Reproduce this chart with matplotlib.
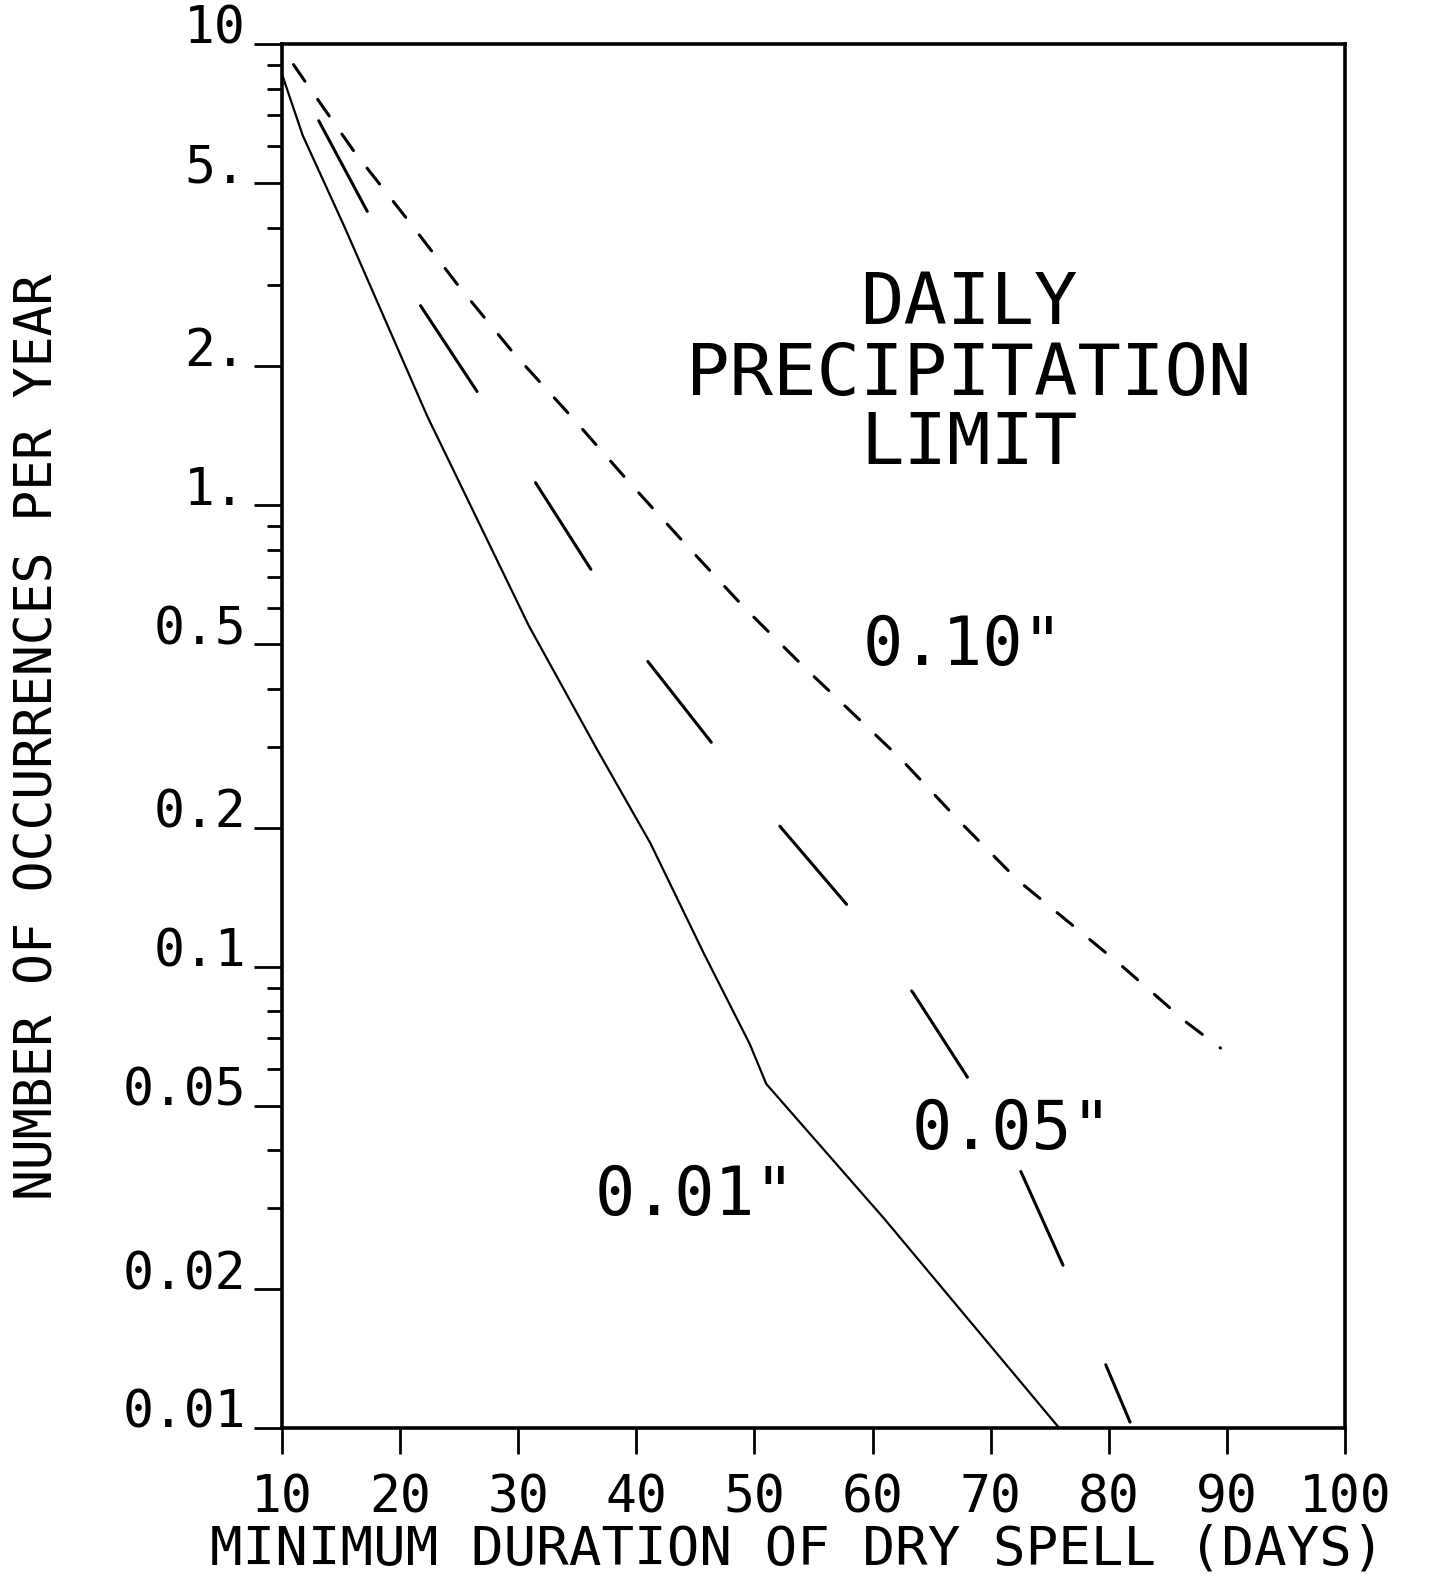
import matplotlib
matplotlib.use("Agg")
import matplotlib.pyplot as plt  # noqa: E402
from matplotlib.ticker import FixedLocator, NullFormatter  # noqa: E402

# Dry-spell frequency curves, one per daily precipitation limit
days_001 = [10, 11.75, 15.3, 22.3, 30.9, 36.6, 41.2, 45.7, 49.6, 51.0, 61.0, 75.8]
occ_001 = [8.6, 6.34, 4.01, 1.56, 0.548, 0.298, 0.185, 0.107, 0.068, 0.0557, 0.0284, 0.010]

days_005 = [10, 12.99, 17.17, 21.52, 26.55, 31.33, 36.19, 40.88, 46.41,
            52.12, 58.07, 63.44, 68.30, 72.57, 76.24, 79.75, 81.8]
occ_005 = [9.6, 6.91, 4.36, 2.76, 1.76, 1.134, 0.724, 0.462, 0.305,
           0.202, 0.134, 0.0877, 0.0562, 0.0359, 0.0222, 0.0137, 0.0103]

days_010 = [10, 12.05, 16.14, 20.65, 25.08, 29.59, 34.61, 39.38, 44.23,
            49.17, 54.28, 62.34, 67.44, 72.29, 81.04, 86.56, 89.46]
occ_010 = [9.8, 8.23, 5.83, 4.155, 2.96, 2.14, 1.546, 1.123, 0.820,
           0.599, 0.444, 0.283, 0.2056, 0.154, 0.1007, 0.0758, 0.0666]

x_ticks = [10, 20, 30, 40, 50, 60, 70, 80, 90, 100]
y_ticks = [0.01, 0.02, 0.05, 0.1, 0.2, 0.5, 1, 2, 5, 10]
y_tick_labels = ["0.01", "0.02", "0.05", "0.1", "0.2", "0.5", "1.", "2.", "5.", "10"]
y_minor = [m * d for d in (0.01, 0.1, 1) for m in (3, 4, 6, 7, 8, 9)]

title_lines = ["DAILY", "PRECIPITATION", "LIMIT"]
curve_labels = ['0.10"', '0.05"', '0.01"']

plt.rcParams["font.family"] = ["DejaVu Sans Mono", "DejaVu Sans"]
plt.rcParams["lines.scale_dashes"] = False

W, H = 1430, 1575
fig = plt.figure(figsize=(W / 100, H / 100), dpi=100)


def fpos(x, y):
    return x / W, 1 - y / H


ax = fig.add_axes([282 / W, 1 - 1428 / H, (1345 - 282) / W, (1428 - 44) / H])
ax.set_yscale("log")
ax.set_xlim(10, 100)
ax.set_ylim(0.01, 10)

ax.plot(days_001, occ_001, color="black", lw=1.6)
ax.plot(days_005, occ_005, color="black", lw=2.2,
        linestyle=(96, (74, 78)), dash_capstyle="round")
ax.plot(days_010, occ_010, color="black", lw=2.2,
        linestyle=(16, (14.5, 16)), dash_capstyle="round")

for s in ax.spines.values():
    s.set_linewidth(2.6)

ax.set_xticks(x_ticks)
ax.yaxis.set_major_locator(FixedLocator(y_ticks))
ax.set_yticklabels(y_tick_labels)
ax.yaxis.set_minor_locator(FixedLocator(y_minor))
ax.yaxis.set_minor_formatter(NullFormatter())
ax.xaxis.set_minor_locator(FixedLocator([]))

ax.tick_params(axis="x", which="major", direction="out", length=19, width=2,
               pad=14, labelsize=37)
ax.tick_params(axis="y", which="major", direction="out", length=20, width=2,
               pad=6, labelsize=37)
ax.tick_params(axis="y", which="minor", direction="out", length=11, width=2)
for lbl in ax.get_yticklabels():
    lbl.set_verticalalignment("baseline")

ax.set_xlabel("MINIMUM DURATION OF DRY SPELL (DAYS)", fontsize=39, va="center")
ax.xaxis.set_label_coords(0.4845, -0.088)
ax.set_ylabel("NUMBER OF OCCURRENCES PER YEAR", fontsize=37, va="center")
ax.yaxis.set_label_coords(-0.2295, 0.4993)

for i, line in enumerate(title_lines):
    fig.text(*fpos(969, 305 + 70 * i), line, fontsize=52,
             ha="center", va="center")

label_pos = [(963, 646), (1012, 1130), (695, 1196)]
for text, (lx, ly) in zip(curve_labels, label_pos):
    fig.text(*fpos(lx, ly), text, fontsize=48, ha="center", va="center")

fig.savefig("out.png", dpi=100, facecolor="white")
